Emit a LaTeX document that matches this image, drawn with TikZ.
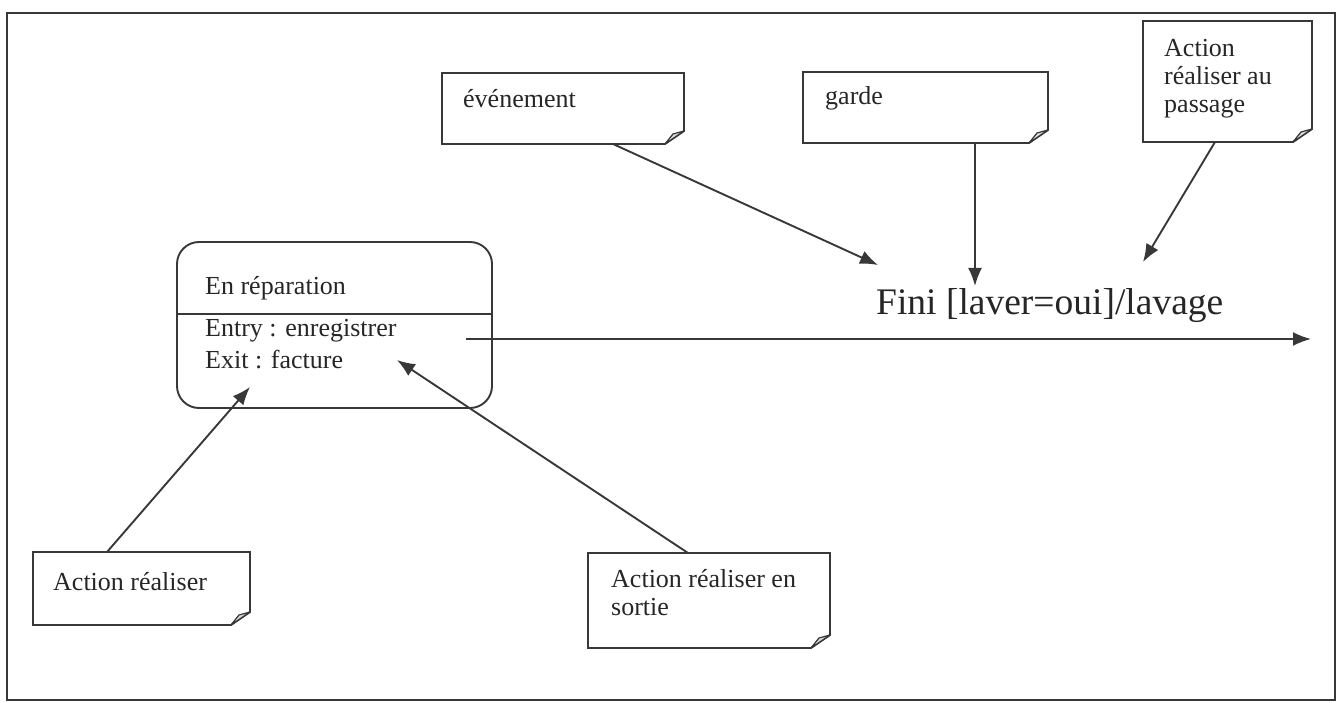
\documentclass[tikz,border=0pt]{standalone}
\usepackage{fontspec}
\setmainfont{Liberation Serif}
\usetikzlibrary{arrows.meta,calc}
\tikzset{
  ln/.style={line width=1.9pt, draw=black!78},
  arr/.style={ln, -{Latex[length=18pt,width=14pt]}},
  txt/.style={anchor=base west, inner sep=0pt, font=\fontsize{26}{30}\selectfont, text=black!85},
  area/.style={inner sep=0pt, outer sep=0pt, anchor=north west},
  fold/.style={fill=black!15, draw=black!78, line width=1.2pt, line join=round},
}
\newcommand\notebox[5]{%
  \node[area, minimum width={#4-#2}, minimum height={#5-#3}] (#1) at (#2,#3) {};
  \draw[ln, line join=miter] (#1.north west) -- (#1.north east) -- ($(#1.south east)+(0,-13)$) -- ($(#1.south east)+(-19,0)$) -- (#1.south west) -- cycle;
  \filldraw[fold] ($(#1.south east)+(-19,0)$) -- ($(#1.south east)+(-11,-10)$) -- ($(#1.south east)+(0,-13)$) -- cycle;
}
\begin{document}
\begin{tikzpicture}[x=1pt,y=-1pt]
\useasboundingbox (0,0) rectangle (1339,703);
% outer frame
\node[area, draw=black!78, line width=2pt, minimum width=1328, minimum height=687] (frame) at (7,13) {};

% notes
\notebox{ev}{442}{73}{684}{144}
\node[txt] (evt) at (463,108) {événement};
\notebox{ga}{803}{72}{1048}{143}
\node[txt] (gat) at (825,105) {garde};
\notebox{pa}{1143}{21}{1312}{142}
\node[txt] (pat1) at (1164,57) {Action};
\node[txt] (pat2) at (1164,85) {réaliser au};
\node[txt] (pat3) at (1164,113) {passage};
\notebox{ar}{33}{552}{250}{625}
\node[txt] (art) at (53,590) {Action réaliser};
\notebox{so}{588}{553}{830}{648}
\node[txt] (sot1) at (611,587) {Action réaliser en};
\node[txt] (sot2) at (611,615) {sortie};

% state
\node[area, draw=black!78, line width=1.9pt, rounded corners=22pt, minimum width=315, minimum height=166] (st) at (177,242) {};
\draw[ln] ($(st.north west)+(0,72)$) -- ($(st.north east)+(0,72)$);
\node[txt] (stn) at (205,295) {En réparation};
\node[txt] (ste1) at (205,337) {Entry : enregistrer};
\node[txt] (ste2) at (205,368) {Exit : facture};

% transition label
\node[anchor=base west, inner sep=0pt, font=\fontsize{37.5}{42}\selectfont, text=black!85] (lab) at (876,315) {Fini [laver=oui]/lavage};

% connectors
\coordinate (evTip) at (878,265);
\coordinate (gaTip) at (975,286);
\coordinate (paTip) at (1143,262);
\coordinate (trS) at (466,339);
\coordinate (trE) at (1311,339);
\coordinate (arTip) at (250,387);
\coordinate (soTip) at (397,360);

\draw[arr] ($(ev.south west)+(171,0)$) -- (evTip);
\draw[arr] ($(ga.south west)+(172,0)$) -- (gaTip);
\draw[arr] ($(pa.south west)+(72,0)$) -- (paTip);
\draw[arr] (trS) -- (trE);
\draw[arr] ($(ar.north west)+(74,0)$) -- (arTip);
\draw[arr] ($(so.north west)+(100,0)$) -- (soTip);
\end{tikzpicture}
\end{document}
